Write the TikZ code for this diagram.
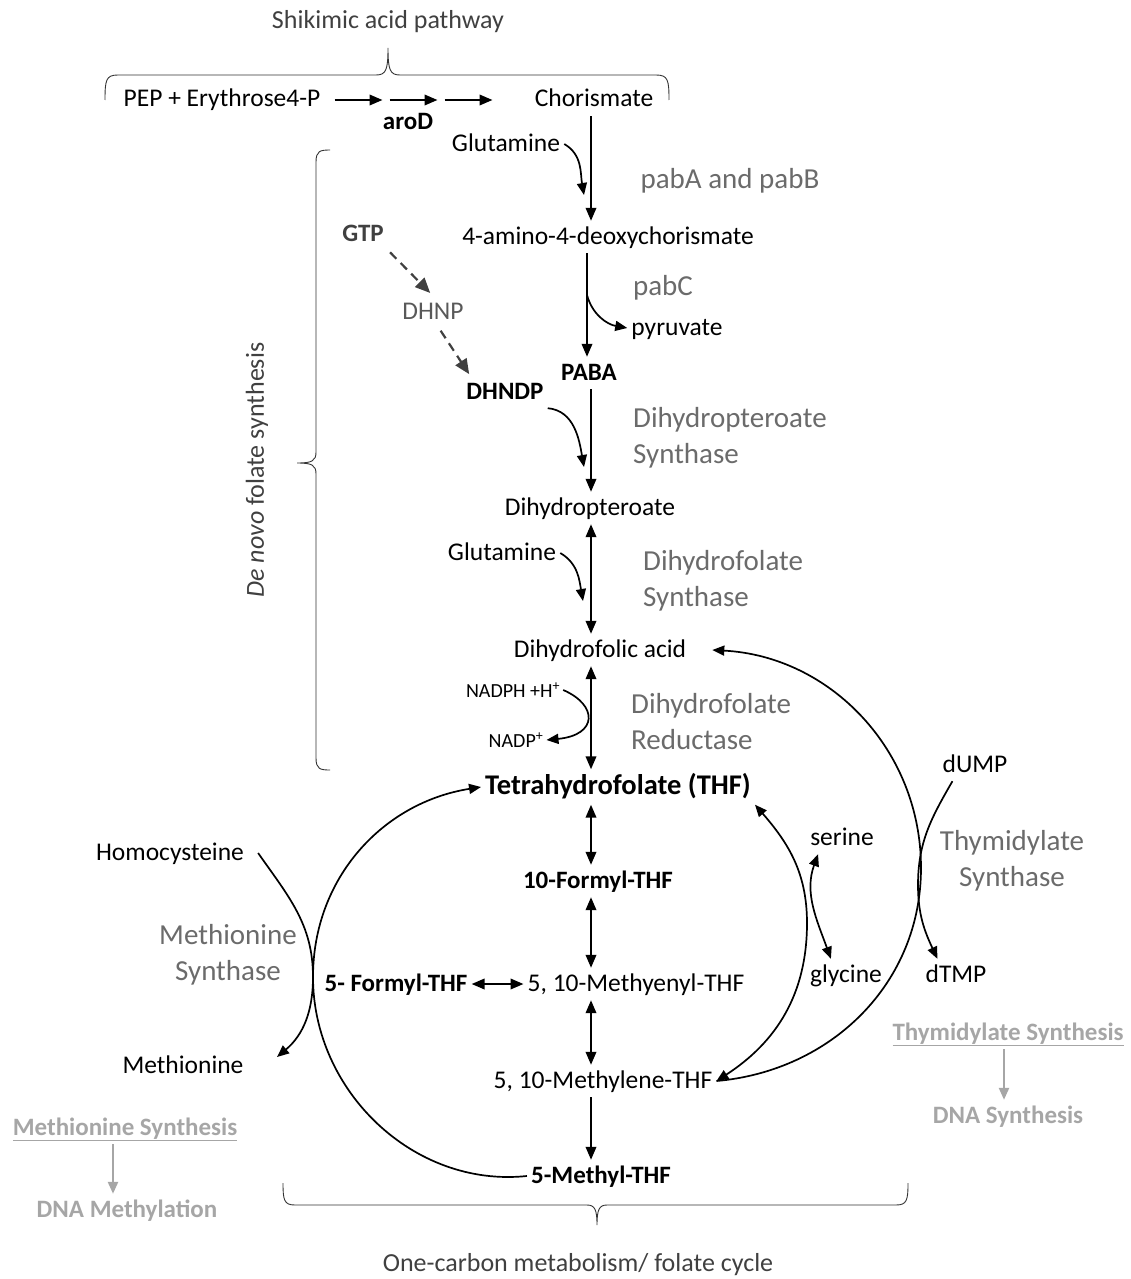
\documentclass[tikz,border=0pt]{standalone}
\usepackage{fontspec}
\setmainfont{Carlito}
\usetikzlibrary{arrows.meta}
\definecolor{enzgray}{HTML}{6B6B6B}
\definecolor{notegray}{HTML}{A6A6A6}
\definecolor{capgray}{HTML}{404040}
\tikzset{
    metabolite/.style = {inner sep=4pt, font=\fontsize{25.5}{30}\selectfont, text height=19pt, text depth=5pt},
    metabolite-bold/.style = {metabolite, font=\fontsize{25}{30}\selectfont\bfseries},
    cofactor/.style = {inner sep=3pt, font=\fontsize{20}{24}\selectfont},
    enzyme/.style = {text=enzgray, font=\fontsize{29}{36}\selectfont, inner sep=0pt},
    note/.style = {text=notegray, font=\fontsize{25}{30}\selectfont\bfseries, inner sep=4pt, text height=19pt, text depth=5pt},
    caption/.style = {text=capgray, font=\fontsize{26}{30}\selectfont},
    step-arrow/.style = {-{Triangle[length=13pt,width=10.5pt]}, line width=2.1pt},
    both-arrow/.style = {{Triangle[length=13pt,width=10.5pt]}-{Triangle[length=13pt,width=10.5pt]}, line width=2.1pt},
    side-arrow/.style = {-{Triangle[length=12pt,width=10pt]}, line width=1.7pt},
    side-both/.style = {{Triangle[length=12pt,width=10pt]}-{Triangle[length=12pt,width=10pt]}, line width=1.7pt},
    dash-arrow/.style = {-{Triangle[length=15pt,width=13pt]}, dash pattern=on 9pt off 6pt, capgray, line width=2.2pt},
    gray-arrow/.style = {-{Triangle[length=12pt,width=10pt]}, line width=2.4pt, notegray},
    brace-line/.style = {line width=0.9pt, black!80},
}

\begin{document}
\begin{tikzpicture}[x=1pt, y=1pt]
\useasboundingbox (0,0) rectangle (1131,-1279);
\coordinate (axis) at (591,0);

% shikimic acid pathway
\node[caption] (shik) at (388,-22) {Shikimic acid pathway};
\draw[brace-line] (105,-100) .. controls (105,-80) and (106,-75) .. (118,-75) -- (376,-75)
    .. controls (386,-75) and (388,-70) .. (388,-48) .. controls (388,-70) and (390,-75) .. (400,-75)
    -- (656,-75) .. controls (668,-75) and (669,-80) .. (669,-100);
\node[metabolite] (pep) at (222,-100) {PEP + Erythrose4-P};
\node[metabolite] (chor) at (594,-100) {Chorismate};
\node[metabolite-bold] (arod) at (408,-123) {aroD};
\foreach \i in {0,1,2}
    \draw[step-arrow] ([xshift={(10+\i*55)*1pt}]pep.east) -- ++(48,0);

% de novo folate synthesis
\draw[brace-line] (330,-150) .. controls (320,-150) and (316,-151) .. (316,-162) -- (316,-452)
    .. controls (316,-461) and (312,-463) .. (297,-463) .. controls (312,-463) and (316,-465) .. (316,-474)
    -- (316,-758) .. controls (316,-769) and (320,-770) .. (330,-770);
\node[caption, rotate=90] (denovo) at (257,-470) {\textit{De novo} folate synthesis};

\node[metabolite] (glu1) at (506,-144) {Glutamine};
\node[enzyme] (pab) at (730,-181) {pabA and pabB};
\node[metabolite] (amino) at (608,-237) {4-amino-4-deoxychorismate};
\node[enzyme] (pabc) at (663,-288) {pabC};
\node[metabolite] (pyr) at (677,-328) {pyruvate};
\node[metabolite-bold] (paba) at (589,-373) {PABA};
\node[metabolite-bold, text=capgray] (gtp) at (363,-234) {GTP};
\node[metabolite, text=black!65] (dhnp) at (433,-312) {DHNP};
\node[metabolite-bold] (dhndp) at (505,-392) {DHNDP};
\node[enzyme, anchor=west, align=left] (dhps) at (633,-438) {Dihydropteroate\\Synthase};
\node[metabolite] (dhp) at (590,-508) {Dihydropteroate};
\node[metabolite] (glu2) at (502,-553) {Glutamine};
\node[enzyme, anchor=west, align=left] (dhfs) at (643,-581) {Dihydrofolate\\Synthase};
\node[metabolite] (dhf) at (600,-650) {Dihydrofolic acid};
\node[cofactor] (nadph) at (513,-690) {NADPH +H\textsuperscript{+}};
\node[cofactor] (nadp) at (516,-740) {NADP\textsuperscript{+}};
\node[enzyme, anchor=west, align=left] (dhfr) at (631,-722) {Dihydrofolate\\Reductase};

% folate cycle
\node[metabolite-bold, font=\fontsize{28.5}{32}\selectfont\bfseries, text height=21pt, text depth=6pt] (thf) at (618,-787) {Tetrahydrofolate (THF)};
\node[metabolite-bold] (fthf10) at (598,-881) {10-Formyl-THF};
\node[metabolite-bold] (fthf5) at (396,-984) {5- Formyl-THF};
\node[metabolite] (mthenyl) at (636,-984) {5, 10-Methyenyl-THF};
\node[metabolite] (mthylene) at (603,-1081) {5, 10-Methylene-THF};
\node[metabolite-bold] (mthf) at (601,-1176) {5-Methyl-THF};

\node[metabolite] (hcy) at (170,-853) {Homocysteine};
\node[enzyme, align=center] (msyn) at (228,-955) {Methionine\\Synthase};
\node[metabolite] (met) at (183,-1066) {Methionine};
\node[note] (metsyn) at (125,-1128) {\underline{Methionine Synthesis}};
\node[note] (dnameth) at (127,-1210) {DNA Methylation};

\node[metabolite] (ser) at (842,-838) {serine};
\node[metabolite] (gly) at (846,-975) {glycine};
\node[metabolite] (dump) at (975,-765) {dUMP};
\node[metabolite] (dtmp) at (956,-975) {dTMP};
\node[enzyme, align=center] (tsyn) at (1012,-861) {Thymidylate\\Synthase};
\node[note] (thysyn) at (1008,-1033) {\underline{Thymidylate Synthesis}};
\node[note] (dnasyn) at (1008,-1116) {DNA Synthesis};

\draw[brace-line] (283,-1183) .. controls (283,-1200) and (284,-1205) .. (295,-1205) -- (587,-1205)
    .. controls (595,-1205) and (597,-1210) .. (597,-1225) .. controls (597,-1210) and (599,-1205) .. (607,-1205)
    -- (896,-1205) .. controls (907,-1205) and (908,-1200) .. (908,-1183);
\node[caption] (onec) at (578,-1265) {One-carbon metabolism/ folate cycle};

% main axis
\draw[step-arrow] (chor.south -| axis) -- (amino.north -| axis);
\draw[step-arrow] ([xshift=-4pt]amino.south -| axis) -- ([xshift=-4pt]paba.north -| axis);
\draw[step-arrow] (paba.south -| axis) -- (dhp.north -| axis);
\draw[both-arrow] (dhp.south -| axis) -- (dhf.north -| axis);
\draw[both-arrow] (dhf.south -| axis) -- (thf.north -| axis);
\draw[both-arrow] (thf.south -| axis) -- (fthf10.north -| axis);
\draw[both-arrow] (fthf10.south -| axis) -- (mthenyl.north -| axis);
\draw[both-arrow] (mthenyl.south -| axis) -- (mthylene.north -| axis);
\draw[step-arrow] (mthylene.south -| axis) -- (mthf.north -| axis);
\draw[both-arrow] (fthf5.east) -- (mthenyl.west);

% side reactions
\coordinate (glu1-tip) at (584,-195);
\coordinate (pyr-start) at (587,-295);
\coordinate (dhndp-tip) at (584,-467);
\coordinate (glu2-tip) at (583,-601);
\draw[side-arrow] (glu1.east) to[out=-30,in=100] (glu1-tip);
\draw[side-arrow] (pyr-start) to[out=-75,in=170] (pyr.west);
\draw[side-arrow] (dhndp.south east) to[out=-5,in=100] (dhndp-tip);
\draw[side-arrow] (glu2.east) to[out=-30,in=100] (glu2-tip);
\draw[side-arrow] (nadph.east) .. controls (598,-705) and (598,-735) .. (nadp.east);
\draw[dash-arrow, shorten <=3pt, shorten >=4pt] (gtp.south east) -- (dhnp.north);
\draw[dash-arrow, shorten <=3pt, shorten >=2pt] ([xshift=6pt]dhnp.south) -- ([xshift=8pt]dhndp.north west);

% cycle arcs
\coordinate (ms-x) at (313,-977);
\coordinate (met-tip) at (277,-1057);
\coordinate (ts-x) at (921,-868);
\coordinate (dump-x) at (918,-885);
\coordinate (sg-x) at (807,-923);
\draw[side-arrow] (mthf.west) to[out=186,in=-90] (ms-x) to[out=90,in=189] (thf.west);
\draw[side-arrow] ([xshift=10pt]hcy.east) to[out=-55,in=90] (ms-x) to[out=-90,in=40] (met-tip);
\draw[side-arrow] (mthylene.east) to[out=5,in=-90] (ts-x) to[out=90,in=-3] ([xshift=22pt]dhf.east);
\draw[side-arrow] ([xshift=14pt]dump.south west) to[out=-120,in=90] (dump-x) to[out=-90,in=115] ([xshift=16pt]dtmp.north west);
\draw[side-both] (thf.south east) to[out=-49,in=90] (sg-x) to[out=-90,in=33] (mthylene.east);
\draw[side-both] ([xshift=12pt]ser.south west) to[out=-110,in=110] ([xshift=25pt]gly.north west);

% outcomes
\draw[gray-arrow] ([xshift=-12pt]metsyn.south) -- ([xshift=-14pt]dnameth.north);
\draw[gray-arrow] ([xshift=-4pt]thysyn.south) -- ([xshift=-4pt]dnasyn.north);
\end{tikzpicture}
\end{document}
